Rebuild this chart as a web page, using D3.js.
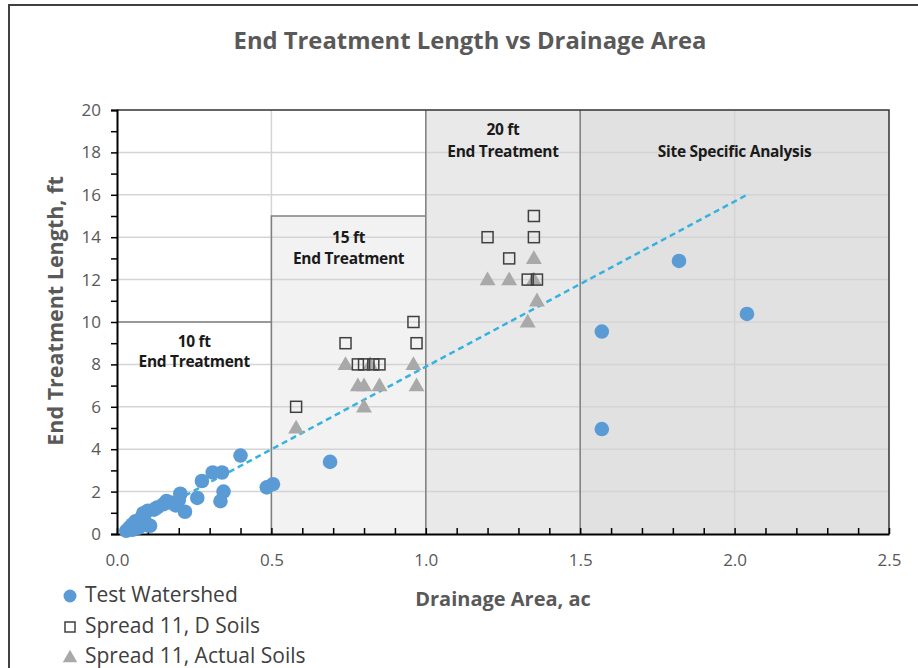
<!DOCTYPE html>
<html><head><meta charset="utf-8">
<script src="https://cdn.jsdelivr.net/npm/d3@7"></script>
<style>body{margin:0;background:#fff}svg{display:block}</style>
</head><body>
<svg id="c" width="918" height="668"></svg>
<script>
// ---- data ----
const testX = [0.03,0.04,0.05,0.06,0.05,0.07,0.08,0.07,0.09,0.096,0.107,0.085,0.10,0.12,0.13,0.15,0.16,0.17,0.19,0.20,0.205,0.22,0.26,0.275,0.31,0.34,0.345,0.335,0.40,0.485,0.505,0.69,1.57,1.57,1.82,2.04];
const testY = [0.15,0.3,0.45,0.6,0.2,0.5,0.8,0.3,0.6,0.42,0.39,0.98,1.1,1.15,1.25,1.4,1.55,1.5,1.35,1.6,1.9,1.05,1.7,2.5,2.9,2.9,2.0,1.55,3.7,2.2,2.35,3.4,9.55,4.95,12.88,10.38];
const dSoilX = [0.58,0.74,0.78,0.80,0.83,0.85,0.96,0.97,1.20,1.27,1.33,1.35,1.35,1.36];
const dSoilY = [6,9,8,8,8,8,10,9,14,13,12,15,14,12];
const actX = [0.58,0.74,0.78,0.80,0.82,0.85,0.80,0.96,0.97,1.20,1.27,1.35,1.35,1.36,1.33];
const actY = [5,8,7,7,8,7,6,8,7,12,12,13,12,11,10];
const trendX = [0.02, 2.04];
const trendY = [0.25, 16.0];
const regionX = [0, 0.5, 1.0, 1.5, 2.5];
const regionTop = [10, 15, 20, 20];
const regionLabels = [["10 ft","End Treatment"],["15 ft","End Treatment"],["20 ft","End Treatment"],["Site Specific Analysis"]];
const regionLabelY = [[9.0,8.05],[13.9,12.95],[19.0,18.0],[17.97]];
const xTicks = [0,0.5,1.0,1.5,2.0,2.5];
const yTicks = [0,2,4,6,8,10,12,14,16,18,20];
const seriesNames = ["Test Watershed","Spread 11, D Soils","Spread 11, Actual Soils"];
const titleText = "End Treatment Length vs Drainage Area";
const xTitle = "Drainage Area, ac";
const yTitle = "End Treatment Length, ft";

// ---- chart ----
const svg = d3.select("#c");
const FONT = "'Open Sans', Lato, sans-serif";
const x = d3.scaleLinear().domain([0,2.5]).range([117,889]);
const y = d3.scaleLinear().domain([0,20]).range([534,110]);

// outer frame
svg.append("rect").attr("x",9).attr("y",5).attr("width",930).attr("height",700)
  .attr("fill","#fff").attr("stroke","#404040").attr("stroke-width",2);

// region fills
const fills = ["#ffffff","#f2f2f2","#e9e9e9","#e1e1e1"];
svg.append("g").selectAll("rect").data(d3.range(4)).join("rect")
  .attr("x",i=>x(regionX[i])).attr("width",i=>x(regionX[i+1])-x(regionX[i]))
  .attr("y",y(20)).attr("height",y(0)-y(20)).attr("fill",(d,i)=>i<2?"#fff":fills[i]);
svg.append("rect").attr("x",x(0.5)).attr("width",x(1)-x(0.5)).attr("y",y(regionTop[1])).attr("height",y(0)-y(regionTop[1])).attr("fill",fills[1]);

// gridlines
svg.append("g").selectAll("line").data(d3.range(2,20,2)).join("line")
  .attr("x1",x(0)).attr("x2",x(2.5)).attr("y1",d=>y(d)).attr("y2",d=>y(d))
  .attr("stroke","#d4d4d4").attr("stroke-width",1.5);
svg.append("g").selectAll("line").data([0.5,1.0,1.5,2.0]).join("line")
  .attr("x1",d=>x(d)).attr("x2",d=>x(d)).attr("y1",y(0)).attr("y2",y(20))
  .attr("stroke","#d4d4d4").attr("stroke-width",1.5);

// region boundaries
const bd = svg.append("g").attr("stroke","#808080").attr("stroke-width",1.5).attr("fill","none");
bd.append("path").attr("d",`M${x(0)},${y(regionTop[0])}H${x(0.5)}`);
bd.append("path").attr("d",`M${x(0.5)},${y(0)}V${y(regionTop[1])}H${x(1)}`);
bd.append("path").attr("d",`M${x(1)},${y(0)}V${y(20)}`);
bd.append("path").attr("d",`M${x(1.5)},${y(0)}V${y(20)}`);

// region labels
regionLabels.forEach((lines,i)=>{
  const cx = (x(regionX[i])+x(regionX[i+1]))/2;
  lines.forEach((t,j)=>{
    svg.append("text").attr("x",cx).attr("y",y(regionLabelY[i][j]))
      .attr("text-anchor","middle").attr("dominant-baseline","middle")
      .attr("font-family",FONT).attr("font-weight","bold").attr("font-size",15.5)
      .attr("letter-spacing",-0.3).attr("fill","#1a1a1a").text(t);
  });
});

// plot frame top/right
svg.append("path").attr("d",`M${x(0)},${y(20)}H${x(2.5)}V${y(0)}`)
  .attr("fill","none").attr("stroke","#333").attr("stroke-width",1.5);

// axes
const yAxis = svg.append("g").attr("transform",`translate(${x(0)},0)`)
  .call(d3.axisLeft(y).tickValues(d3.range(0,21,1)).tickSize(6).tickFormat(d=>yTicks.includes(d)?d:""));
yAxis.select(".domain").attr("stroke","#000").attr("stroke-width",2);
yAxis.selectAll(".tick line").attr("stroke","#000").attr("stroke-width",1.5);
yAxis.selectAll(".tick text").attr("font-family",FONT).attr("font-size",17).attr("fill","#595959").attr("x",-16);

const xAxis = svg.append("g").attr("transform",`translate(0,${y(0)})`)
  .call(d3.axisBottom(x).tickValues(d3.range(0,26,1).map(d=>d/10)).tickSizeInner(-6).tickSizeOuter(0)
    .tickFormat(d=>xTicks.some(t=>Math.abs(t-d)<1e-9)?d3.format(".1f")(d):""));
xAxis.select(".domain").attr("stroke","#000").attr("stroke-width",2);
xAxis.selectAll(".tick line").attr("stroke","#000").attr("stroke-width",1.5);
xAxis.selectAll(".tick text").attr("font-family",FONT).attr("font-size",17).attr("fill","#595959").attr("y",20);

// trendline
svg.append("path").datum(d3.zip(trendX,trendY))
  .attr("d",d3.line().x(d=>x(d[0])).y(d=>y(d[1])))
  .attr("fill","none").attr("stroke","#35b2df").attr("stroke-width",2.5).attr("stroke-dasharray","6,4");

// series
const blue = "#5b9bd5", tri = "#a9a9a9", sq = "#404040";
svg.append("g").selectAll("circle").data(d3.zip(testX,testY)).join("circle")
  .attr("cx",d=>x(d[0])).attr("cy",d=>y(d[1])).attr("r",7.3).attr("fill",blue);
const triPath = d3.symbol().type(d3.symbolTriangle).size(110);
svg.append("g").selectAll("path").data(d3.zip(actX,actY)).join("path")
  .attr("transform",d=>`translate(${x(d[0])},${y(d[1])+1})`).attr("d",triPath).attr("fill",tri);
svg.append("g").selectAll("rect").data(d3.zip(dSoilX,dSoilY)).join("rect")
  .attr("x",d=>x(d[0])-5.5).attr("y",d=>y(d[1])-5.5).attr("width",11).attr("height",11)
  .attr("fill","none").attr("stroke",sq).attr("stroke-width",1.5);

// titles
svg.append("text").attr("x",470).attr("y",43).attr("text-anchor","middle").attr("dominant-baseline","middle")
  .attr("font-family",FONT).attr("font-weight","bold").attr("font-size",23.8).attr("fill","#595959").text(titleText);
svg.append("text").attr("x",503).attr("y",601).attr("text-anchor","middle").attr("dominant-baseline","middle")
  .attr("font-family",FONT).attr("font-weight","bold").attr("font-size",20).attr("fill","#595959").text(xTitle);
svg.append("text").attr("transform","translate(57,311) rotate(-90)").attr("text-anchor","middle").attr("dominant-baseline","middle")
  .attr("font-family",FONT).attr("font-weight","bold").attr("font-size",21.5).attr("fill","#595959").text(yTitle);

// legend
const lg = svg.append("g");
const ly = [596, 627, 657];
lg.append("circle").attr("cx",70).attr("cy",ly[0]).attr("r",6.5).attr("fill",blue);
lg.append("rect").attr("x",65).attr("y",ly[1]-5).attr("width",10).attr("height",10).attr("fill","none").attr("stroke",sq).attr("stroke-width",1.5);
lg.append("path").attr("transform",`translate(70,${ly[2]+1})`).attr("d",d3.symbol().type(d3.symbolTriangle).size(90)).attr("fill",tri);
seriesNames.forEach((n,i)=>{
  lg.append("text").attr("x",85).attr("y",ly[i]).attr("dominant-baseline","middle")
    .attr("font-family",FONT).attr("font-size",21).attr("fill","#404040").text(n);
});
</script>
</body></html>
